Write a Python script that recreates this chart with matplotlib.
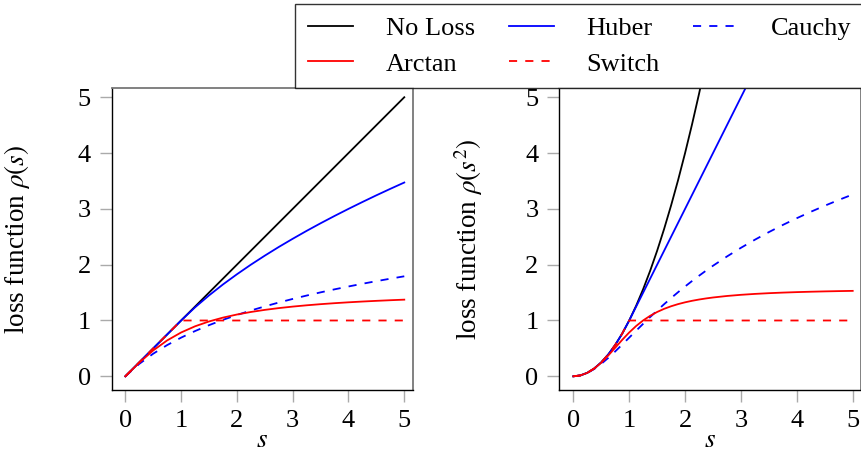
import matplotlib
matplotlib.use("Agg")
import matplotlib.pyplot as plt

plt.rcParams['font.family'] = ['Liberation Serif', 'DejaVu Serif']
plt.rcParams['mathtext.fontset'] = 'stix'

# sample points s (left panel)
s_left = [0, 0.25, 0.5, 0.75, 1, 1.25, 1.5, 1.75, 2, 2.25, 2.5, 2.75, 3, 3.25,
          3.5, 3.75, 4, 4.25, 4.5, 4.75, 5]

# left panel: rho(s)
left_noloss = [0, 0.25, 0.5, 0.75, 1, 1.25, 1.5, 1.75, 2, 2.25, 2.5, 2.75, 3,
               3.25, 3.5, 3.75, 4, 4.25, 4.5, 4.75, 5]
left_huber = [0, 0.25, 0.5, 0.75, 1, 1.236, 1.449, 1.646, 1.828, 2.0, 2.162,
              2.317, 2.464, 2.606, 2.742, 2.873, 3.0, 3.123, 3.243, 3.359, 3.472]
left_cauchy = [0, 0.2231, 0.4055, 0.5596, 0.6931, 0.8109, 0.9163, 1.0116,
               1.0986, 1.1787, 1.2528, 1.3218, 1.3863, 1.4469, 1.5041, 1.5581,
               1.6094, 1.6582, 1.7047, 1.7492, 1.7918]
left_arctan = [0, 0.2450, 0.4636, 0.6435, 0.7854, 0.8961, 0.9828, 1.0517,
               1.1071, 1.1526, 1.1903, 1.2220, 1.2490, 1.2723, 1.2925, 1.3102,
               1.3258, 1.3397, 1.3521, 1.3633, 1.3734]
left_switch = [0, 0.25, 0.5, 0.75, 1, 1, 1, 1, 1, 1, 1, 1, 1, 1, 1, 1, 1, 1,
               1, 1, 1]

# sample points s (right panel)
s_right = [0, 0.125, 0.25, 0.375, 0.5, 0.625, 0.75, 0.875, 1, 1.125, 1.25,
           1.375, 1.5, 1.625, 1.75, 1.875, 2, 2.125, 2.25, 2.375, 2.5,
           2.75, 3, 3.25, 3.5, 3.75, 4, 4.25, 4.5, 4.75, 5]

# right panel: rho(s^2)
right_noloss = [0, 0.015625, 0.0625, 0.140625, 0.25, 0.390625, 0.5625,
                0.765625, 1, 1.265625, 1.5625, 1.890625, 2.25, 2.640625,
                3.0625, 3.515625, 4, 4.515625, 5.0625, 5.640625, 6.25,
                7.5625, 9, 10.5625, 12.25, 14.0625, 16, 18.0625, 20.25,
                22.5625, 25]
right_huber = [0, 0.015625, 0.0625, 0.140625, 0.25, 0.390625, 0.5625,
               0.765625, 1, 1.25, 1.5, 1.75, 2, 2.25, 2.5, 2.75, 3, 3.25, 3.5,
               3.75, 4, 4.5, 5, 5.5, 6, 6.5, 7, 7.5, 8, 8.5, 9]
right_cauchy = [0, 0.0155, 0.0606, 0.1316, 0.2231, 0.3298, 0.4463, 0.5685,
                0.6931, 0.8179, 0.9410, 1.0615, 1.1787, 1.2922, 1.4018,
                1.5075, 1.6094, 1.7076, 1.8021, 1.8932, 1.9810,
                2.1474, 2.3026, 2.4477, 2.5840, 2.7122, 2.8332, 2.9477,
                3.0564, 3.1597, 3.2581]
right_arctan = [0, 0.0156, 0.0624, 0.1397, 0.2450, 0.3724, 0.5124, 0.6534,
                0.7854, 0.9021, 1.0015, 1.0843, 1.1526, 1.2088, 1.2551,
                1.2937, 1.3258, 1.3529, 1.3758, 1.3953, 1.4121,
                1.4393, 1.4601, 1.4764, 1.4894, 1.4998, 1.5084, 1.5155,
                1.5215, 1.5265, 1.5308]
right_switch = [0, 0.015625, 0.0625, 0.140625, 0.25, 0.390625, 0.5625,
                0.765625, 1, 1, 1, 1, 1, 1, 1, 1, 1, 1, 1, 1, 1,
                1, 1, 1, 1, 1, 1, 1, 1, 1, 1]

labels = ["No Loss", "Huber", "Cauchy", "Arctan", "Switch"]
ticks = [0, 1, 2, 3, 4, 5]
ylabels = [r"loss function $\rho(s)$", r"loss function $\rho(s^2)$"]

FS = 19
LFS = 19.5
LW = 1.3
dash = (0, (4.5, 4.5))

fig = plt.figure(figsize=(8.62, 4.54), dpi=100)
ax1 = fig.add_axes([0.1296, 0.1410, 0.3495, 0.6645])
ax2 = fig.add_axes([0.6489, 0.1410, 0.3496, 0.6645])

panels = [
    (ax1, s_left, [left_noloss, left_huber, left_cauchy, left_arctan, left_switch],
     (-0.244, 5.156)),
    (ax2, s_right, [right_noloss, right_huber, right_cauchy, right_arctan, right_switch],
     (-0.25, 5.143)),
]

handles = None
for i, (ax, xs, series, xl) in enumerate(panels):
    h0, = ax.plot(xs, series[0], color='black', lw=LW)
    h1, = ax.plot(xs, series[1], color='#0000ff', lw=LW)
    h2, = ax.plot(xs, series[2], color='#0000ff', lw=LW, linestyle=dash)
    h3, = ax.plot(xs, series[3], color='#ff0000', lw=LW)
    h4, = ax.plot(xs, series[4], color='#ff0000', lw=LW, linestyle=dash)
    if handles is None:
        handles = [h0, h1, h2, h3, h4]
    ax.set_xlim(*xl)
    ax.set_ylim(-0.245, 5.16)
    ax.set_xticks(ticks)
    ax.set_yticks(ticks)
    ax.tick_params(direction='out', length=8.5, width=1.0, color='#aaaaaa',
                   labelsize=FS)
    ax.tick_params(axis='x', pad=6)
    ax.tick_params(axis='y', pad=6.5)
    for side in ['left', 'bottom']:
        ax.spines[side].set_color('black')
        ax.spines[side].set_linewidth(1.0)
    for side in ['top', 'right']:
        ax.spines[side].set_color('#777777')
        ax.spines[side].set_linewidth(1.3)
    ax.set_xlabel(r"$s$", fontsize=LFS, va='center')
    ax.set_ylabel(ylabels[i], fontsize=LFS, va='center')

ax1.xaxis.set_label_coords(0.5, -0.166)
ax2.xaxis.set_label_coords(0.5, -0.166)
ax1.yaxis.set_label_coords(-0.314, 0.5)
ax2.yaxis.set_label_coords(-0.300, 0.5)

order = [0, 3, 1, 4, 2]
leg = fig.legend([handles[k] for k in order], [labels[k] for k in order],
                 ncol=3, loc='upper left',
                 bbox_to_anchor=(0.3428, 0.992), fontsize=FS,
                 frameon=True, fancybox=False, edgecolor='black',
                 handlelength=1.7, handletextpad=1.25, columnspacing=1.27,
                 labelspacing=0.47, borderpad=0.48, borderaxespad=0)
leg.get_frame().set_linewidth(1.0)

fig.savefig("out.png", dpi=100)
